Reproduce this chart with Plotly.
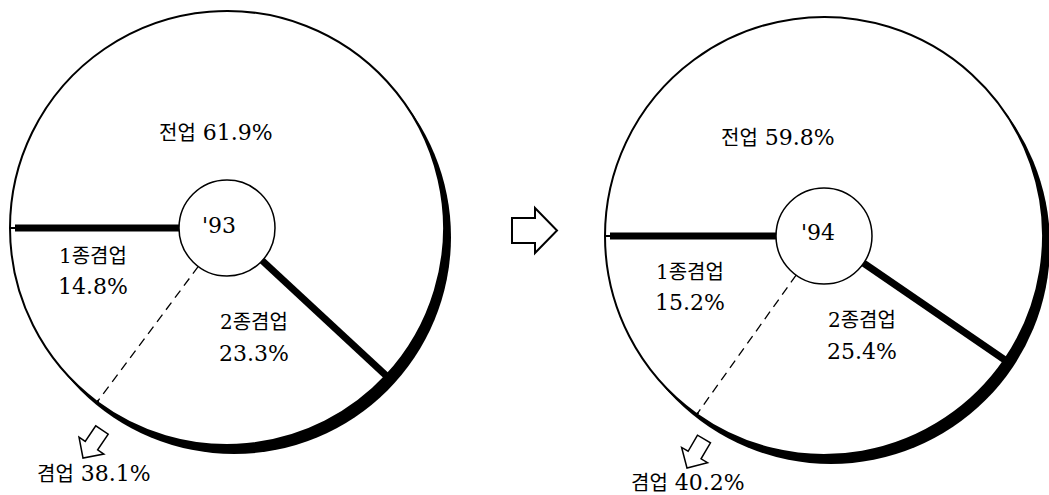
import math
import plotly.graph_objects as go

# ---------------- data ----------------
years = ["'93", "'94"]
categories = ["전업", "2종겸업", "1종겸업"]
share_93 = [61.9, 23.3, 14.8]
share_94 = [59.8, 25.4, 15.2]
combined_label = "겸업"
combined_93 = 38.1
combined_94 = 40.2

# ---------------- styling / geometry (pixels) ----------------
W, H = 1049, 495
FONT = "DejaVu Serif, Noto Sans CJK KR, serif"
FS = 22          # digits
KFS = 20         # hangul
ROTATION = 270   # first slice starts at 9 o'clock, clockwise
SHADOW_DX, SHADOW_DY = 7, 9


def px(x):
    return x / W


def py(y):
    return 1 - y / H


def ko(s):
    return f"<span style='font-size:{KFS}px'>{s}</span>"


charts = [
    dict(year=years[0], values=share_93, combined=combined_93,
         cx=227, cy=228, r=217, hole=48,
         pos_main=(216, 133), pos_c1=(93, 256), pos_c2=(254, 322),
         pos_year=(219, 225), pos_comb=(94, 473),
         arrow_tail=(102, 430), arrow_tip=(83, 458)),
    dict(year=years[1], values=share_94, combined=combined_94,
         cx=824, cy=236, r=219, hole=48,
         pos_main=(778, 137), pos_c1=(690, 272), pos_c2=(862, 320),
         pos_year=(818, 232), pos_comb=(688, 482),
         arrow_tail=(704, 439), arrow_tip=(687, 468)),
]


def polar_pt(c, phi_deg, rad):
    p = math.radians(phi_deg)
    return c["cx"] + rad * math.sin(p), c["cy"] - rad * math.cos(p)


def arrow_path(tail, tip, shaft_w, head_w, head_len):
    dx, dy = tip[0] - tail[0], tip[1] - tail[1]
    L = math.hypot(dx, dy)
    ux, uy = dx / L, dy / L
    nx, ny = -uy, ux
    bx, by = tip[0] - ux * head_len, tip[1] - uy * head_len
    pts = [
        (tail[0] + nx * shaft_w / 2, tail[1] + ny * shaft_w / 2),
        (bx + nx * shaft_w / 2, by + ny * shaft_w / 2),
        (bx + nx * head_w / 2, by + ny * head_w / 2),
        tip,
        (bx - nx * head_w / 2, by - ny * head_w / 2),
        (bx - nx * shaft_w / 2, by - ny * shaft_w / 2),
        (tail[0] - nx * shaft_w / 2, tail[1] - ny * shaft_w / 2),
    ]
    return "M " + " L ".join(f"{px(x):.5f},{py(y):.5f}" for x, y in pts) + " Z"


fig = go.Figure()
shapes = []
annotations = []


def ann(text, pos):
    annotations.append(dict(
        text=text, x=px(pos[0]), y=py(pos[1]), xref="paper", yref="paper",
        showarrow=False, xanchor="center", yanchor="middle",
        font=dict(family=FONT, size=FS, color="black")))


def line_shape(p0, p1, **line):
    return dict(type="line", xref="paper", yref="paper", layer="above",
                x0=px(p0[0]), y0=py(p0[1]), x1=px(p1[0]), y1=py(p1[1]),
                line=line)


for c in charts:
    cx, cy, r = c["cx"], c["cy"], c["r"]
    # drop shadow
    shapes.append(dict(
        type="circle", xref="paper", yref="paper", layer="below",
        x0=px(cx - r + SHADOW_DX), x1=px(cx + r + SHADOW_DX),
        y0=py(cy + r + SHADOW_DY), y1=py(cy - r + SHADOW_DY),
        fillcolor="black", line=dict(width=0)))

    fig.add_trace(go.Pie(
        labels=categories, values=c["values"], sort=False,
        direction="clockwise", rotation=ROTATION,
        domain=dict(x=[px(cx - r), px(cx + r)], y=[py(cy + r), py(cy - r)]),
        marker=dict(colors=["white"] * 3, line=dict(color="black", width=2)),
        textinfo="none", hoverinfo="label+percent", showlegend=False,
        name=c["year"]))

    v = c["values"]
    tot = sum(v)
    phi_start = ROTATION
    phi_1 = ROTATION + 360 * v[0] / tot
    phi_2 = ROTATION + 360 * (v[0] + v[1]) / tot

    # dashed boundary between 2종겸업 and 1종겸업
    shapes.append(line_shape(polar_pt(c, phi_2, 0), polar_pt(c, phi_2, r - 2),
                             color="white", width=4))
    shapes.append(line_shape(polar_pt(c, phi_2, c["hole"]), polar_pt(c, phi_2, r),
                             color="black", width=1.3, dash="9px,6px"))

    # thick boundaries of 전업
    for phi, rr in ((phi_start, r - 5), (phi_1, r + 3)):
        shapes.append(line_shape(polar_pt(c, phi, c["hole"] - 2), polar_pt(c, phi, rr),
                                 color="black", width=7))

    # centre circle
    hr = c["hole"]
    shapes.append(dict(type="circle", xref="paper", yref="paper", layer="above",
                       x0=px(cx - hr), x1=px(cx + hr), y0=py(cy + hr), y1=py(cy - hr),
                       fillcolor="white", line=dict(color="black", width=1.5)))

    # small hollow arrow pointing to 겸업 total
    shapes.append(dict(type="path", xref="paper", yref="paper", layer="above",
                       path=arrow_path(c["arrow_tail"], c["arrow_tip"], 15, 30, 15),
                       fillcolor="white", line=dict(color="black", width=1.5)))

    ann(f"{ko(categories[0])} {v[0]}%", c["pos_main"])
    ann(ko(categories[2]), c["pos_c1"])
    ann(f"{v[2]}%", (c["pos_c1"][0], c["pos_c1"][1] + 30))
    ann(ko(categories[1]), c["pos_c2"])
    ann(f"{v[1]}%", (c["pos_c2"][0], c["pos_c2"][1] + 31))
    ann(c["year"], c["pos_year"])
    ann(f"{ko(combined_label)} {c['combined']}%", c["pos_comb"])

# big hollow arrow between the two charts
shapes.append(dict(type="path", xref="paper", yref="paper", layer="above",
                   path=arrow_path((512, 230.5), (557, 230.5), 25, 45, 22),
                   fillcolor="white", line=dict(color="black", width=2)))

fig.update_layout(
    width=W, height=H, margin=dict(l=0, r=0, t=0, b=0),
    paper_bgcolor="white", plot_bgcolor="white",
    showlegend=False, shapes=shapes, annotations=annotations,
)

fig.write_html(
    "out.html",
    config={"displayModeBar": False},
    post_script="document.body.style.margin='0';document.body.style.overflow='hidden';",
)
